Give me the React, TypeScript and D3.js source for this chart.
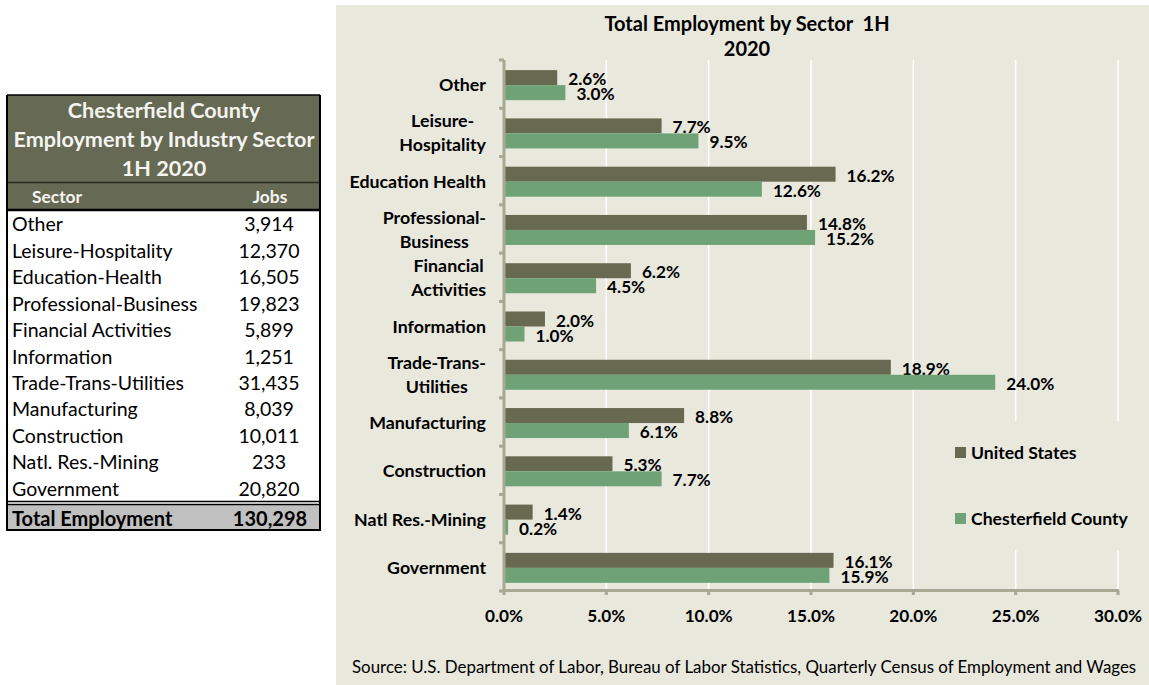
import React from "react";
import * as d3 from "d3";

const categories = [
  "Other",
  "Leisure-\nHospitality",
  "Education Health",
  "Professional-\nBusiness",
  "Financial\nActivities",
  "Information",
  "Trade-Trans-\nUtilities",
  "Manufacturing",
  "Construction",
  "Natl Res.-Mining",
  "Government",
];
const usValues = [2.6, 7.7, 16.2, 14.8, 6.2, 2.0, 18.9, 8.8, 5.3, 1.4, 16.1];
const countyValues = [3.0, 9.5, 12.6, 15.2, 4.5, 1.0, 24.0, 6.1, 7.7, 0.2, 15.9];
const seriesNames = ["United States", "Chesterfield County"];
const xTicks = [0, 5, 10, 15, 20, 25, 30];

const tableSectors = [
  "Other",
  "Leisure-Hospitality",
  "Education-Health",
  "Professional-Business",
  "Financial Activities",
  "Information",
  "Trade-Trans-Utilities",
  "Manufacturing",
  "Construction",
  "Natl. Res.-Mining",
  "Government",
];
const tableJobs = ["3,914", "12,370", "16,505", "19,823", "5,899", "1,251", "31,435", "8,039", "10,011", "233", "20,820"];
const tableTitle = ["Chesterfield County", "Employment by Industry Sector", "1H 2020"];
const totalJobs = "130,298";

const FONT = "Lato, 'Open Sans', sans-serif";
const US_COLOR = "#676950";
const CO_COLOR = "#6FA276";
const PANEL_BG = "#E9E8DD";
const AXIS_COLOR = "#A8A893";

let ctx: CanvasRenderingContext2D | null = null;
function measure(text: string, font: string): number {
  if (!ctx) {
    const c = document.createElement("canvas");
    ctx = c.getContext("2d");
  }
  if (!ctx) return text.length * 8;
  ctx.font = font;
  return ctx.measureText(text).width;
}

export default function App() {
  const x = d3.scaleLinear().domain([0, 30]).range([504, 1118]);
  const y = d3.scaleBand<string>().domain(categories).range([60, 591]).padding(0);
  const bw = y.bandwidth();
  const inner = d3
    .scaleBand<string>()
    .domain(seriesNames)
    .range([(bw - 30) / 2 + 1, (bw + 30) / 2 + 1]);
  const series = [usValues, countyValues];
  const colors = [US_COLOR, CO_COLOR];

  const catFontSize = 17.8;
  const catFont = `bold ${catFontSize}px Lato`;
  const labelRight = 486;

  const rowY = d3.scaleBand<string>().domain(tableSectors).range([210, 501]);
  const bodySize = 19.5;

  return (
    <svg
      width={1149}
      height={685}
      style={{ position: "absolute", left: 0, top: 0, fontFamily: FONT }}
    >
      <rect x={0} y={0} width={1149} height={685} fill="#ffffff" />
      {/* Table */}
      <g>
        <rect x={7} y={95} width={313} height={87} fill="#666953" />
        {tableTitle.map((t, i) => (
          <text
            key={t}
            x={164}
            y={110 + i * 29}
            textAnchor="middle"
            dominantBaseline="central"
            fill="#F4F4F0"
            fontWeight="bold"
            fontSize={21.6}
          >
            {t}
          </text>
        ))}
        <rect x={7} y={183} width={313} height={27} fill="#666953" />
        <line x1={7} x2={320} y1={182.5} y2={182.5} stroke="#2a2a20" strokeWidth={1.5} />
        <text x={57} y={196.5} textAnchor="middle" dominantBaseline="central" fill="#F4F4F0" fontWeight="bold" fontSize={17.4}>
          Sector
        </text>
        <text x={270} y={196.5} textAnchor="middle" dominantBaseline="central" fill="#F4F4F0" fontWeight="bold" fontSize={17.4}>
          Jobs
        </text>
        <rect x={7} y={210} width={313} height={291} fill="#ffffff" />
        {tableSectors.map((s, i) => (
          <g key={s}>
            <text
              x={12}
              y={(rowY(s) as number) + rowY.bandwidth() / 2 + 0.5}
              dominantBaseline="central"
              fill="#000"
              fontSize={bodySize}
            >
              {s}
            </text>
            <text
              x={269}
              y={(rowY(s) as number) + rowY.bandwidth() / 2 + 0.5}
              textAnchor="middle"
              dominantBaseline="central"
              fill="#000"
              fontSize={bodySize}
            >
              {tableJobs[i]}
            </text>
          </g>
        ))}
        <rect x={7} y={505} width={313} height={25} fill="#C0C0C0" />
        <text x={12} y={518} dominantBaseline="central" fill="#000" fontWeight="bold" fontSize={20}>
          Total Employment
        </text>
        <text x={270} y={518} textAnchor="middle" dominantBaseline="central" fill="#000" fontWeight="bold" fontSize={20}>
          {totalJobs}
        </text>
        {/* borders */}
        <line x1={7} x2={320} y1={210} y2={210} stroke="#000" strokeWidth={2.5} />
        <line x1={7} x2={320} y1={501.5} y2={501.5} stroke="#000" strokeWidth={1.5} />
        <line x1={7} x2={320} y1={504.5} y2={504.5} stroke="#000" strokeWidth={1.5} />
        <line x1={7} x2={320} y1={530} y2={530} stroke="#000" strokeWidth={2} />
        <line x1={7} x2={7} y1={95} y2={531} stroke="#000" strokeWidth={2} />
        <line x1={320} x2={320} y1={95} y2={531} stroke="#000" strokeWidth={2} />
        <line x1={7} x2={320} y1={95} y2={95} stroke="#000" strokeWidth={1.5} />
      </g>

      {/* Chart panel */}
      <rect x={336} y={5} width={813} height={680} fill={PANEL_BG} />
      <text x={747} y={23} textAnchor="middle" dominantBaseline="central" fontWeight="bold" fontSize={20} fill="#000">
        Total Employment by Sector{"\u00A0\u00A0"}1H
      </text>
      <text x={747} y={48} textAnchor="middle" dominantBaseline="central" fontWeight="bold" fontSize={20} fill="#000">
        2020
      </text>

      {/* gridlines */}
      {xTicks
        .filter((t) => t > 0)
        .map((t) => (
          <line key={t} x1={x(t)} x2={x(t)} y1={60} y2={590} stroke="#ffffff" strokeWidth={1.5} />
        ))}

      {/* legend background (covers gridlines) */}
      <rect x={935} y={421} width={200} height={129} fill={PANEL_BG} />

      {/* bars */}
      {categories.map((c, ci) =>
        seriesNames.map((s, si) => {
          const v = series[si][ci];
          const by = (y(c) as number) + (inner(s) as number);
          return (
            <g key={c + s}>
              <rect x={x(0)} y={by} width={x(v) - x(0)} height={inner.bandwidth()} fill={colors[si]} />
              <text
                x={x(v) + 11}
                y={by + inner.bandwidth() / 2 + 1}
                dominantBaseline="central"
                fontWeight="bold"
                fontSize={17.2}
                fill="#000"
              >
                {v.toFixed(1) + "%"}
              </text>
            </g>
          );
        })
      )}

      {/* y axis */}
      <line x1={504} x2={504} y1={60} y2={592} stroke={AXIS_COLOR} strokeWidth={3} />
      {d3.range(categories.length + 1).map((i) => {
        const ty = 60 + i * bw;
        return <line key={i} x1={499} x2={504} y1={ty} y2={ty} stroke={AXIS_COLOR} strokeWidth={3} />;
      })}
      {/* x axis */}
      <line x1={502} x2={1119} y1={590.5} y2={590.5} stroke={AXIS_COLOR} strokeWidth={3} />
      {xTicks.map((t) => (
        <line key={t} x1={x(t)} x2={x(t)} y1={590} y2={595} stroke={AXIS_COLOR} strokeWidth={3} />
      ))}
      {xTicks.map((t) => (
        <text key={t} x={x(t)} y={615} textAnchor="middle" dominantBaseline="central" fontWeight="bold" fontSize={17.2} fill="#000">
          {t.toFixed(1) + "%"}
        </text>
      ))}

      {/* category labels */}
      {categories.map((c) => {
        const lines = c.split("\n");
        const maxW = Math.max(...lines.map((l) => measure(l, catFont)));
        const cx = labelRight - maxW / 2;
        const cy = (y(c) as number) + bw / 2;
        const lh = 24;
        return (
          <g key={c}>
            {lines.map((l, li) => (
              <text
                key={li}
                x={cx}
                y={cy + (li - (lines.length - 1) / 2) * lh}
                textAnchor="middle"
                dominantBaseline="central"
                fontWeight="bold"
                fontSize={catFontSize}
                fill="#000"
              >
                {l}
              </text>
            ))}
          </g>
        );
      })}

      {/* legend */}
      {seriesNames.map((s, i) => (
        <g key={s}>
          <rect x={955} y={447 + i * 66} width={11} height={11} fill={colors[i]} />
          <text x={971} y={452.5 + i * 66} dominantBaseline="central" fontWeight="bold" fontSize={17.6} fill="#000">
            {s}
          </text>
        </g>
      ))}

      {/* source */}
      <text x={352} y={666} dominantBaseline="central" fontSize={16.9} fill="#000">
        Source: U.S. Department of Labor, Bureau of Labor Statistics, Quarterly Census of Employment and Wages
      </text>
    </svg>
  );
}
